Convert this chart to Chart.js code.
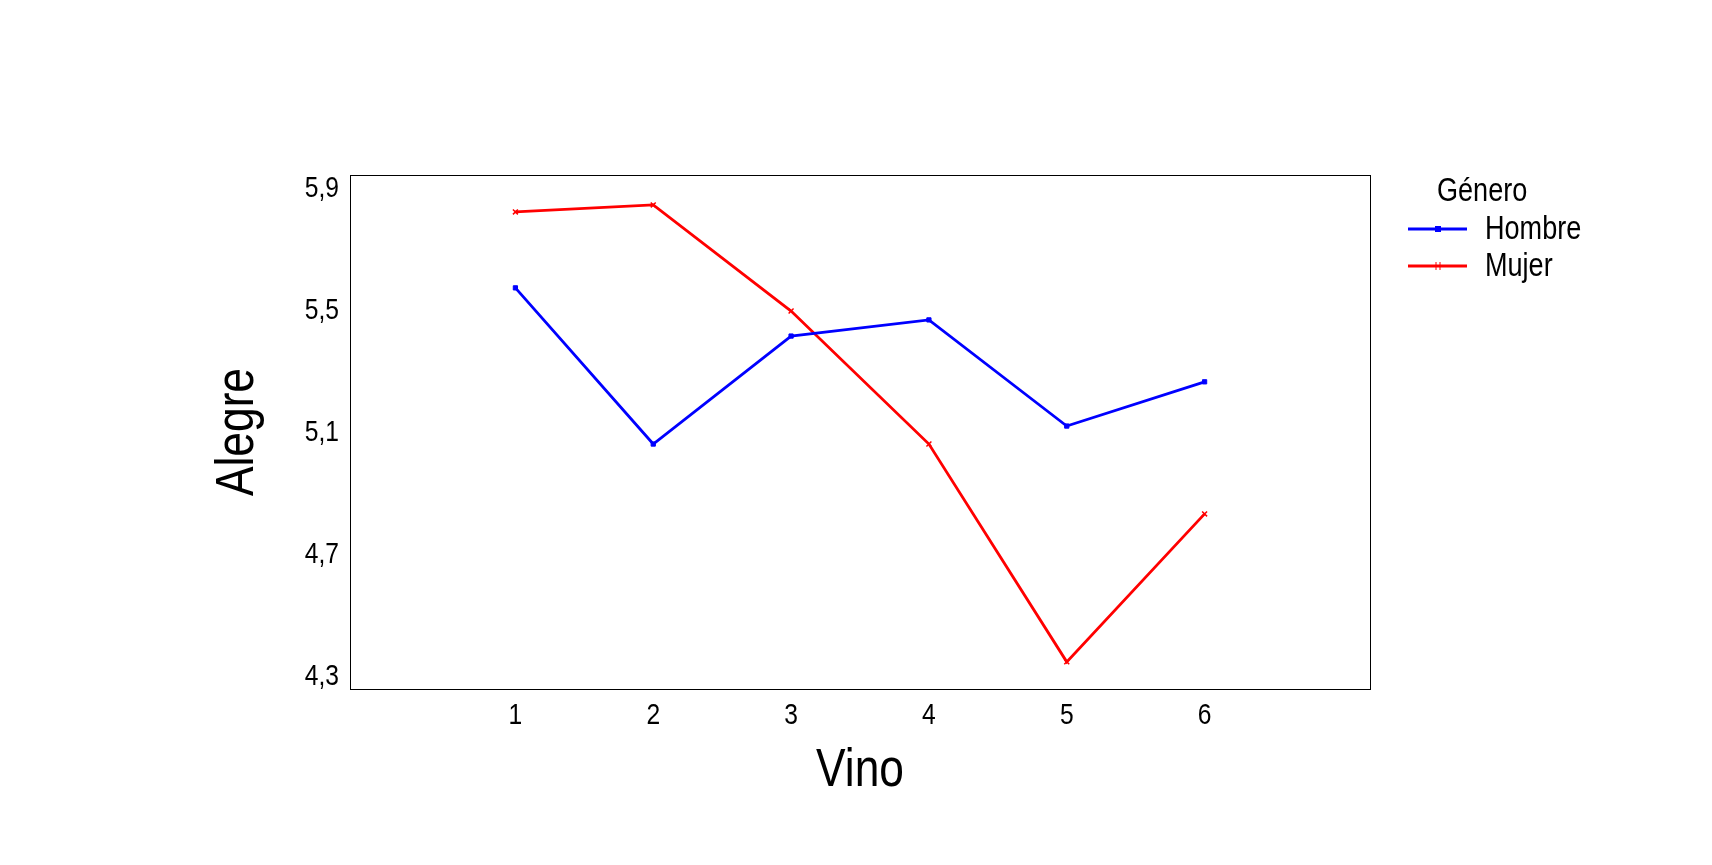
<!DOCTYPE html>
<html>
<head>
<meta charset="utf-8">
<script src="https://cdn.jsdelivr.net/npm/chart.js@4"></script>
<style>
  html, body { margin: 0; padding: 0; background: #fff; }
  #wrap { width: 1712px; height: 865px; position: relative; }
</style>
</head>
<body>
<div id="wrap"><canvas id="chartCanvas"></canvas></div>
<script>
// values
const vinos = [1, 2, 3, 4, 5, 6];
const hombre = [5.569, 5.057, 5.411, 5.464, 5.116, 5.261];
const mujer = [5.818, 5.841, 5.493, 5.057, 4.343, 4.828];
const yTicks = [4.3, 4.7, 5.1, 5.5, 5.9];
const seriesNames = ['Hombre', 'Mujer'];
const legendTitle = 'Género';
const xTitle = 'Vino';
const yTitle = 'Alegre';

// Arial-metric font squeezed horizontally, to look like Arial Narrow
const FONT = "'Liberation Sans', Arial, sans-serif";
const NARROW = 0.82;

const toPoints = (vals) => vinos.map((v, i) => ({ x: v, y: vals[i] }));

function narrowText(ctx, text, x, y, size, align, rot) {
    ctx.save();
    ctx.translate(x, y);
    if (rot) ctx.rotate(rot);
    ctx.scale(NARROW, 1);
    ctx.font = size + 'px ' + FONT;
    ctx.textAlign = align;
    ctx.textBaseline = 'middle';
    ctx.fillStyle = '#000';
    ctx.fillText(text, 0, 0);
    ctx.restore();
}

// frame, tick labels, axis titles, legend
const framePlugin = {
    id: 'frame',
    afterDraw(chart) {
        const { ctx, chartArea, scales } = chart;
        ctx.save();
        ctx.strokeStyle = '#000';
        ctx.lineWidth = 1;
        ctx.strokeRect(Math.round(chartArea.left) + 0.5, Math.round(chartArea.top) + 0.5,
            Math.round(chartArea.right - chartArea.left), Math.round(chartArea.bottom - chartArea.top));

        scales.y.ticks.forEach(t => {
            narrowText(ctx, t.value.toFixed(1).replace('.', ','), chartArea.left - 11,
                scales.y.getPixelForValue(t.value) + 2, 30, 'right');
        });
        scales.x.ticks.forEach(t => {
            narrowText(ctx, String(t.value), scales.x.getPixelForValue(t.value),
                chartArea.bottom + 27, 30, 'center');
        });
        narrowText(ctx, xTitle, (chartArea.left + chartArea.right) / 2, chartArea.bottom + 82, 54, 'center');
        narrowText(ctx, yTitle, 238, (chartArea.top + chartArea.bottom) / 2, 54, 'center', -Math.PI / 2);

        // legend
        narrowText(ctx, legendTitle, 1437, 192, 33, 'left');
        const rowsY = [229, 266];
        chart.data.datasets.forEach((ds, i) => {
            const y = rowsY[i];
            ctx.strokeStyle = ds.borderColor;
            ctx.lineWidth = 3;
            ctx.beginPath();
            ctx.moveTo(1408, y);
            ctx.lineTo(1467, y);
            ctx.stroke();
            const mx = 1438;
            if (i === 0) {
                ctx.fillStyle = ds.borderColor;
                ctx.fillRect(mx - 3, y - 3, 6, 6);
            } else {
                ctx.lineWidth = 1;
                ctx.beginPath();
                ctx.moveTo(mx - 2, y - 4); ctx.lineTo(mx - 2, y + 4);
                ctx.moveTo(mx + 2, y - 4); ctx.lineTo(mx + 2, y + 4);
                ctx.stroke();
            }
            narrowText(ctx, seriesNames[i], 1485, y + 1, 33, 'left');
        });
        ctx.restore();
    }
};

const ctx = document.getElementById('chartCanvas').getContext('2d');
new Chart(ctx, {
    type: 'line',
    data: {
        datasets: [{
            label: seriesNames[0],
            data: toPoints(hombre),
            borderColor: '#0000ff',
            backgroundColor: '#0000ff',
            borderWidth: 2.8,
            pointStyle: 'rect',
            pointRadius: 3,
            pointBorderWidth: 1,
            tension: 0
        }, {
            label: seriesNames[1],
            data: toPoints(mujer),
            borderColor: '#ff0000',
            backgroundColor: '#ff0000',
            borderWidth: 2.8,
            pointStyle: 'crossRot',
            pointRadius: 3.5,
            pointBorderWidth: 1.5,
            tension: 0
        }]
    },
    options: {
        responsive: true,
        maintainAspectRatio: false,
        animation: false,
        layout: { padding: { top: 175, right: 342, left: 0, bottom: 0 } },
        plugins: {
            legend: { display: false },
            tooltip: { enabled: false }
        },
        scales: {
            x: {
                type: 'linear',
                min: -0.2,
                max: 7.2,
                afterBuildTicks: (scale) => { scale.ticks = vinos.map(v => ({ value: v })); },
                afterFit: (scale) => { scale.height = 176; },
                grid: { display: false, drawTicks: false },
                border: { display: false },
                ticks: { display: false }
            },
            y: {
                min: 4.254,
                max: 5.939,
                afterBuildTicks: (scale) => { scale.ticks = yTicks.map(v => ({ value: v })); },
                afterFit: (scale) => { scale.width = 350; },
                grid: { display: false, drawTicks: false },
                border: { display: false },
                ticks: { display: false }
            }
        }
    },
    plugins: [framePlugin]
});
</script>
</body>
</html>
